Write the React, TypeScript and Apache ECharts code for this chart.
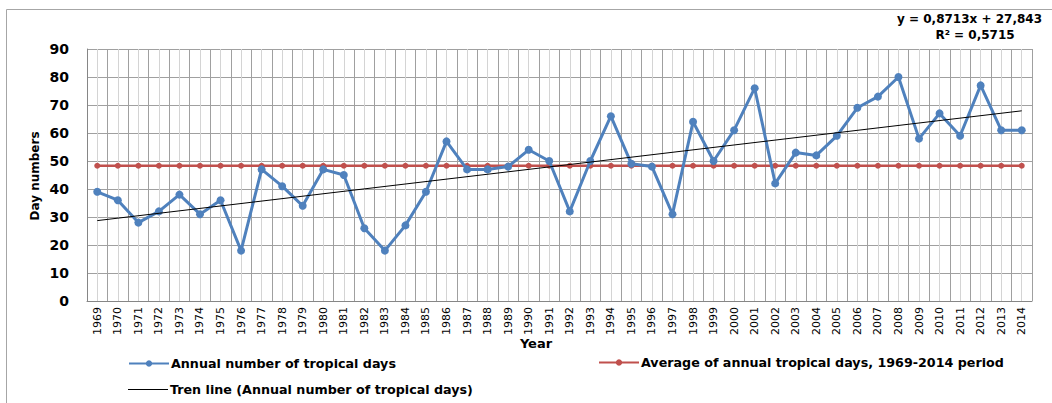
import React, { useEffect, useRef } from "react";
import * as echarts from "echarts";

const years: string[] = [
  "1969","1970","1971","1972","1973","1974","1975","1976","1977","1978","1979","1980",
  "1981","1982","1983","1984","1985","1986","1987","1988","1989","1990","1991","1992",
  "1993","1994","1995","1996","1997","1998","1999","2000","2001","2002","2003","2004",
  "2005","2006","2007","2008","2009","2010","2011","2012","2013","2014",
];

const tropicalDays: number[] = [
  39, 36, 28, 32, 38, 31, 36, 18, 47, 41, 34, 47,
  45, 26, 18, 27, 39, 57, 47, 47, 48, 54, 50, 32,
  50, 66, 49, 48, 31, 64, 50, 61, 76, 42, 53, 52,
  59, 69, 73, 80, 58, 67, 59, 77, 61, 61,
];

const averageValue = 48.3;
const averageLine: number[] = years.map(() => averageValue);

// Excel trend line as printed on the chart: y = 0,8713x + 27,843 (x = 1..46)
const trendSlope = 0.8713;
const trendIntercept = 27.843;
const trendEnds: [string, number][] = [
  [years[0], trendSlope * 1 + trendIntercept],
  [years[years.length - 1], trendSlope * years.length + trendIntercept],
];

const yTicks = { min: 0, max: 90, interval: 10 };

const FONT = "DejaVu Sans";

export default function App() {
  const ref = useRef<HTMLDivElement>(null);
  useEffect(() => {
    document.body.style.margin = "0";
    const chart = echarts.init(ref.current!, undefined, { renderer: "svg" });
    const legendText = { fontFamily: FONT, fontWeight: "bold", fontSize: 12.7, color: "#000", padding: [0, 0, 0, -3] };
    chart.setOption({
      animation: false,
      backgroundColor: "#ffffff",
      grid: { left: 87, top: 49, right: 20, bottom: 102, containLabel: false },
      xAxis: [
        {
          type: "category",
          data: years,
          boundaryGap: true,
          axisLine: { show: true, lineStyle: { color: "#868686", width: 1 } },
          axisTick: { show: false },
          splitLine: { show: false },
          axisLabel: {
            interval: 0,
            rotate: 90,
            margin: 6,
            color: "#000",
            fontFamily: FONT,
            fontSize: 11,
          },
        },
        {
          type: "value",
          min: 0,
          max: years.length * 2,
          interval: 2,
          position: "top",
          axisLine: { show: false },
          axisTick: { show: false },
          axisLabel: { show: false },
          splitLine: { show: true, lineStyle: { color: "#a0a0a0", width: 1 } },
          minorTick: { show: false, splitNumber: 2 },
          minorSplitLine: { show: true, lineStyle: { color: "#d4d4d4", width: 1 } },
        },
      ],
      yAxis: {
        type: "value",
        min: yTicks.min,
        max: yTicks.max,
        interval: yTicks.interval,
        axisLine: { show: true, lineStyle: { color: "#868686" } },
        axisTick: { show: false },
        splitLine: { show: true, lineStyle: { color: "#a0a0a0", width: 1 } },
        axisLabel: {
          margin: 18,
          color: "#000",
          fontFamily: FONT,
          fontWeight: "bold",
          fontSize: 14,
        },
      },
      legend: [
        {
          data: ["Annual number of tropical days"],
          left: 123,
          top: 352,
          itemWidth: 40,
          itemHeight: 8,
          textStyle: legendText,
        },
        {
          data: ["Average of annual tropical days, 1969-2014 period"],
          left: 593,
          top: 351,
          itemWidth: 40,
          itemHeight: 8,
          textStyle: legendText,
        },
        {
          data: [{ name: "Tren line (Annual number of tropical days)", icon: "rect" }],
          left: 123,
          top: 378,
          itemWidth: 40,
          itemHeight: 1.2,
          textStyle: legendText,
        },
      ],
      graphic: [
        {
          type: "rect",
          shape: { x: 6.5, y: 9.5, width: 1200, height: 600 },
          style: { fill: "none", stroke: "#a6a6a6", lineWidth: 1 },
          silent: true,
        },
        {
          type: "text",
          x: 35,
          y: 176,
          rotation: Math.PI / 2,
          style: {
            text: "Day numbers",
            fontFamily: FONT,
            fontWeight: "bold",
            fontSize: 12,
            fill: "#000",
            align: "center",
            verticalAlign: "middle",
          },
        },
        {
          type: "text",
          x: 536,
          y: 343,
          style: {
            text: "Year",
            fontFamily: FONT,
            fontWeight: "bold",
            fontSize: 13,
            fill: "#000",
            align: "center",
            verticalAlign: "middle",
          },
        },
        {
          type: "text",
          x: 1042,
          y: 19,
          style: {
            text: "y = 0,8713x + 27,843",
            fontFamily: FONT,
            fontWeight: "bold",
            fontSize: 12,
            fill: "#000",
            align: "right",
            verticalAlign: "middle",
          },
        },
        {
          type: "text",
          x: 975,
          y: 35,
          style: {
            text: "R² = 0,5715",
            fontFamily: FONT,
            fontWeight: "bold",
            fontSize: 12,
            fill: "#000",
            align: "center",
            verticalAlign: "middle",
          },
        },
      ],
      series: [
        {
          name: "Average of annual tropical days, 1969-2014 period",
          type: "line",
          xAxisIndex: 0,
          data: averageLine,
          symbol: "circle",
          symbolSize: 6,
          itemStyle: { color: "#c0504d" },
          lineStyle: { color: "#c0504d", width: 2.5 },
          z: 3,
        },
        {
          name: "Tren line (Annual number of tropical days)",
          type: "line",
          xAxisIndex: 0,
          data: trendEnds,
          symbol: "none",
          itemStyle: { color: "#000" },
          lineStyle: { color: "#000", width: 1 },
          z: 5,
        },
        {
          name: "Annual number of tropical days",
          type: "line",
          xAxisIndex: 0,
          data: tropicalDays,
          symbol: "circle",
          symbolSize: 8,
          itemStyle: { color: "#4f81bd" },
          lineStyle: { color: "#4f81bd", width: 3 },
          z: 4,
        },
      ],
    });
    return () => chart.dispose();
  }, []);
  return <div ref={ref} style={{ width: 1052, height: 403 }} />;
}
